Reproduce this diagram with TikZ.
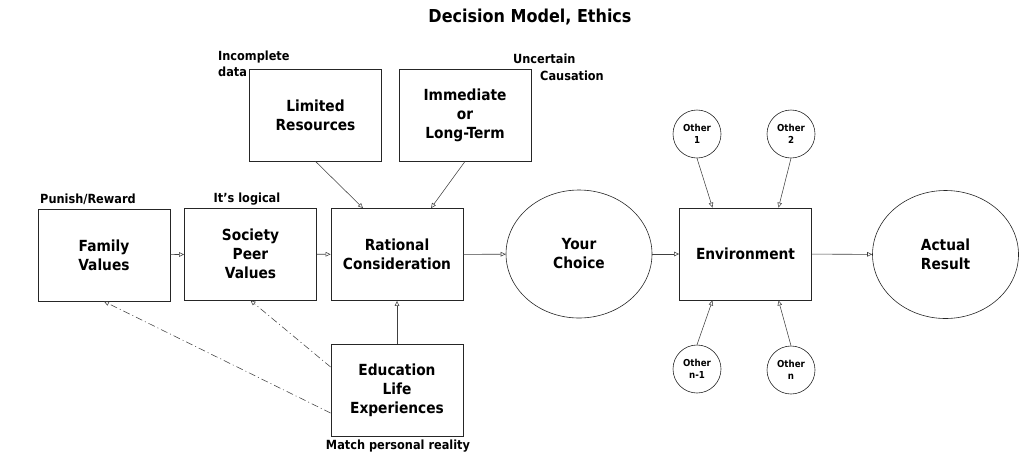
\documentclass[tikz,border=0pt]{standalone}
\usepackage{fontspec}
\setmainfont{DejaVu Sans Condensed}
\usetikzlibrary{arrows.meta,shapes.geometric}

\tikzset{
  box/.style={draw=black!85,line width=0.8pt,minimum width=132pt,minimum height=92pt,
    inner sep=0pt,align=center,font=\fontsize{15.3}{19}\selectfont\bfseries},
  blob/.style={ellipse,draw=black!85,line width=0.6pt,minimum width=146pt,minimum height=128pt,
    inner sep=0pt,align=center,font=\fontsize{15.3}{19}\selectfont\bfseries},
  other/.style={circle,draw=black!85,line width=0.6pt,minimum size=48pt,inner sep=0pt,
    align=center,font=\fontsize{9.6}{12.5}\selectfont\bfseries},
  note/.style={inner sep=0pt,font=\fontsize{12.6}{16}\selectfont\bfseries},
  link/.style={-{Triangle[open,length=5pt,width=4.5pt]},draw=black!75,line width=0.55pt},
  hint/.style={link,dash pattern=on 7pt off 3pt on 1pt off 3pt}
}

\begin{document}
\begin{tikzpicture}[x=1pt,y=-1pt]
\useasboundingbox (0,0) rectangle (1024,464);

\node[font=\fontsize{17.8}{20}\selectfont\bfseries] (title) at (530,17) {Decision Model, Ethics};

% left chain
\node[box] (family) at (104,255) {Family\\Values};
\node[box] (society) at (250.5,254) {Society\\Peer\\Values};
\node[box] (rational) at (397,254.5) {Rational\\Consideration};
\node[box] (limited) at (315.5,115) {Limited\\Resources};
\node[box] (immediate) at (465,115) {Immediate\\or\\Long-Term};
\node[box] (edu) at (397,390) {Education\\Life\\Experiences};

\node[note,anchor=west] (punish) at (40,199) {Punish/Reward};
\node[note] (logical) at (247,199) {It's logical};
\node[note,anchor=north west,align=left] (incomplete) at (218,51) {Incomplete\\data};
\node[note,anchor=west] (uncertain) at (513,59) {Uncertain};
\node[note,anchor=west] (causation) at (540,76) {Causation};
\node[note] (match) at (398,446) {Match personal reality};

% right part
\node[blob] (choice) at (579,254) {Your\\Choice};
\node[box] (env) at (745.5,254) {Environment};
\node[blob] (result) at (945.5,254.5) {Actual\\Result};
\node[other] (o1) at (697,134) {Other\\1};
\node[other] (o2) at (791,134) {Other\\2};
\node[other] (on1) at (697,369) {Other\\n-1};
\node[other] (on) at (791,370) {Other\\n};

\draw[link] (family) -- (society);
\draw[link] (society) -- (rational);
\draw[link] (rational) -- (choice);
\draw[link] (choice) -- (env);
\draw[link] (env) -- (result);
\draw[link] (limited.south) -- ([xshift=-34pt]rational.north);
\draw[link] (immediate.south) -- ([xshift=34pt]rational.north);
\draw[link] (edu.north) -- (rational.south);
\draw[link] (o1.south) -- ([xshift=-33pt]env.north);
\draw[link] (o2.south) -- ([xshift=33pt]env.north);
\draw[link] (on1.north) -- ([xshift=-33pt]env.south);
\draw[link] (on.north) -- ([xshift=33pt]env.south);
\draw[hint] ([yshift=23pt]edu.west) -- (society.south);
\draw[hint] ([yshift=-23pt]edu.west) -- (family.south);
\end{tikzpicture}
\end{document}
